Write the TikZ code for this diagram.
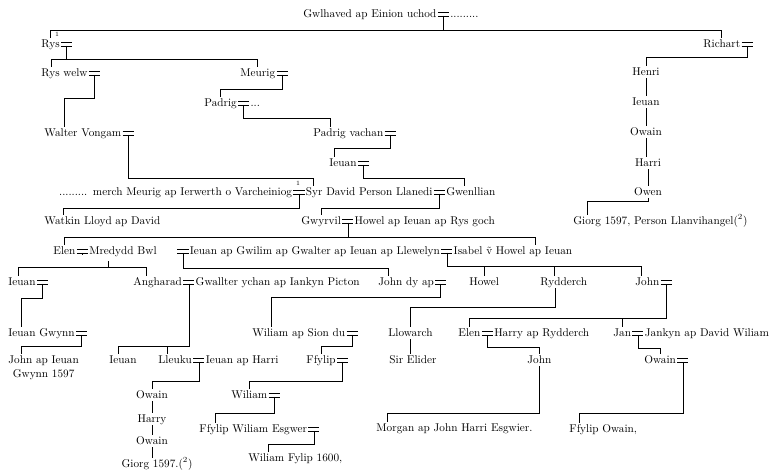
\documentclass[tikz,border=0pt]{standalone}
\usepackage{tikz}
\usetikzlibrary{positioning,calc}

\begin{document}
\begin{tikzpicture}[
    x=0.03cm, y=-0.03cm,
    person/.style={anchor=west, inner sep=1pt, text height=1.6ex, text depth=.4ex, font=\fontsize{9.6}{11}\selectfont},
    wed/.style={inner sep=0pt, minimum width=9pt, minimum height=3pt,
        append after command={(\tikzlastnode.north west) edge[rule] (\tikzlastnode.north east)
                              (\tikzlastnode.south west) edge[rule] (\tikzlastnode.south east)}},
    rule/.style={line width=0.5pt},
    fnote/.style={font=\fontsize{5.5}{6}\selectfont, inner sep=0pt}
]
    \useasboundingbox (0,0) rectangle (771,470);

    % Head of the line
    \node[person] (gwl) at (302,14) {Gwlhaved ap Einion uchod};
    \node[wed, right=0pt of gwl] (gwlm) {};
    \node[person, right=0pt of gwlm] (gwlw) {.........};

    % Sons of Gwlhaved
    \node[person] (rys) at (40,44) {Rys};
    \node[wed, right=0pt of rys] (rysm) {};
    \node[fnote] (fn1) at (57,34) {1};
    \node[person] (richart) at (702,44) {Richart};
    \node[wed, right=0pt of richart] (richartm) {};
    \draw[rule] (gwlm.south) -- ++(0,14) -| (rys.north);
    \draw[rule] (gwlm.south) -- ++(0,14) -| (richart.north);

    % Rys and his line
    \node[person] (rysw) at (40,73) {Rys welw};
    \node[wed, right=0pt of rysw] (ryswm) {};
    \node[person] (meurig) at (239,73) {Meurig};
    \node[wed, right=0pt of meurig] (meurigm) {};
    \draw[rule] (rysm.south) -- ++(0,13) -| ($(rysw.north west)+(11,0)$);
    \draw[rule] (rysm.south) -- ++(0,13) -| (meurig.north);

    \node[person] (padrig) at (203,103) {Padrig};
    \node[wed, right=0pt of padrig] (padrigm) {};
    \node[person, right=0pt of padrigm] (padrigw) {...};
    \draw[rule] (meurigm.south) -- ++(0,14) -| (padrig.north);

    \node[person] (walter) at (43,133) {Walter Vongam};
    \node[wed, right=0pt of walter] (walterm) {};
    \draw[rule] (ryswm.south) -- ++(0,23) -| ($(walter.north west)+(21,0)$);

    \node[person] (pvachan) at (312,133) {Padrig vachan};
    \node[wed, right=0pt of pvachan] (pvachanm) {};
    \draw[rule] (padrigm.south) -- ++(0,13) -| ($(pvachan.north west)+(18,0)$);

    \node[person] (ieuana) at (328,163) {Ieuan};
    \node[wed, right=0pt of ieuana] (ieuanam) {};
    \draw[rule] (pvachanm.south) -- ++(0,13) -| ($(ieuana.north west)+(6,0)$);

    % Syr David and his two wives
    \node[wed] (syrm) at (299,192) {};
    \node[person, left=0pt of syrm] (merch) {.........\enspace merch Meurig ap Ierwerth o Varcheiniog};
    \node[person, right=0pt of syrm] (syr) {Syr David Person Llanedi};
    \node[wed, right=0pt of syr] (syrm2) {};
    \node[person, right=0pt of syrm2] (gwenllian) {Gwenllian};
    \node[fnote] (fn2) at (298,183) {1};
    \draw[rule] (walterm.south) -- ++(0,43) -| ($(syr.north west)+(9,0)$);
    \draw[rule] (ieuanam.south) -- ++(0,13) -| ($(gwenllian.north west)+(19,0)$);

    % Children of Syr David
    \node[person] (watkin) at (43,221) {Watkin Lloyd ap David};
    \node[person] (gwyrvil) at (300,221) {Gwyrvil};
    \node[wed, right=0pt of gwyrvil] (gwyrvilm) {};
    \node[person, right=0pt of gwyrvilm] (howel) {Howel ap Ieuan ap Rys goch};
    \draw[rule] (syrm.south) -- ++(0,14) -| ($(watkin.north west)+(20,0)$);
    \draw[rule] (syrm2.south) -- ++(0,14) -| (gwyrvil.north);

    % Children of Gwyrvil
    \node[person] (elen) at (52,251) {Elen};
    \node[wed, right=0pt of elen] (elenm) {};
    \node[person, right=0pt of elenm] (mredydd) {Mredydd Bwl};
    \node[wed] (ieuangm0) at (183,251) {};
    \node[person, right=0pt of ieuangm0] (ieuang) {Ieuan ap Gwilim ap Gwalter ap Ieuan ap Llewelyn};
    \node[wed, right=0pt of ieuang] (ieuangm) {};
    \node[person, right=0pt of ieuangm] (isabel) {Isabel \~v Howel ap Ieuan};
    \draw[rule] (gwyrvilm.south) -- ++(0,14) -| (elen.north);
    \draw[rule] (gwyrvilm.south) -- ++(0,14) -| ($(isabel.north west)+(83,0)$);

    % Children of Elen
    \node[person] (ieuanb) at (7,282) {Ieuan};
    \node[wed, right=0pt of ieuanb] (ieuanbm) {};
    \node[person] (angharad) at (132,282) {Angharad};
    \node[wed, right=0pt of angharad] (angharadm) {};
    \node[person, right=0pt of angharadm] (gwallter) {Gwallter ychan ap Iankyn Picton};
    \coordinate (elenline) at ($(mredydd.south west)+(20,4)$);
    \draw[rule] (elenm.south) -- ++(0,2);
    \draw[rule] (elenline) -- ++(0,6) -| ($(ieuanb.north west)+(11,0)$);
    \draw[rule] (elenline) -- ++(0,6) -| ($(angharad.north west)+(14,0)$);

    % Children of Ieuan ap Gwilim
    \node[person] (johndy) at (377,282) {John dy ap};
    \node[wed, right=0pt of johndy] (johndym) {};
    \draw[rule] (ieuangm0.south) -- ++(0,15) -| ($(johndy.north west)+(11,0)$);

    % Children of Isabel
    \node[person] (howelb) at (468,282) {Howel};
    \node[person] (rydderch) at (539,282) {Rydderch};
    \node[person] (johnb) at (634,282) {John};
    \node[wed, right=0pt of johnb] (johnbm) {};
    \draw[rule] (ieuangm.south) -- ++(0,13) -| (howelb.north);
    \draw[rule] (ieuangm.south) -- ++(0,13) -| ($(rydderch.north west)+(15,0)$);
    \draw[rule] (ieuangm.south) -- ++(0,13) -| ($(johnb.north west)+(7,0)$);

    % Next generation
    \node[person] (ieuangw) at (7,333) {Ieuan Gwynn};
    \node[wed, right=0pt of ieuangw] (ieuangwm) {};
    \draw[rule] (ieuanbm.south) -- ++(0,14) -| ($(ieuangw.north west)+(14,0)$);

    \node[person] (wiliams) at (251,333) {Wiliam ap Sion du};
    \node[wed, right=0pt of wiliams] (wiliamsm) {};
    \draw[rule] (johndym.south) -- ++(0,13) -| ($(wiliams.north west)+(20,0)$);

    \node[person] (llowarch) at (387,333) {Llowarch};
    \draw[rule] ($(rydderch.south west)+(16,0)$) -- ++(0,19) -| (llowarch.north);

    \node[person] (elenb) at (457,333) {Elen};
    \node[wed, right=0pt of elenb] (elenbm) {};
    \node[person, right=0pt of elenbm] (harry) {Harry ap Rydderch};
    \node[person] (jan) at (612,333) {Jan};
    \node[wed, right=0pt of jan] (janm) {};
    \node[person, right=0pt of janm] (jankyn) {Jankyn ap David Wiliam};
    \draw[rule] (johnbm.south) -- ++(0,34) -| (elenb.north);
    \draw[rule] (johnbm.south) -- ++(0,34) -| (jan.north);

    \node[person] (johnai) at (7,360) {John ap Ieuan};
    \node[person, below=1pt of johnai] (gwynn) {Gwynn 1597};
    \draw[rule] (ieuangwm.south) -- ++(0,11) -| ($(johnai.north west)+(14,0)$);

    \node[person] (ieuanc) at (108,360) {Ieuan};
    \node[person] (lleuku) at (157,360) {Lleuku};
    \node[wed, right=0pt of lleuku] (lleukum) {};
    \node[person, right=0pt of lleukum] (ieuanh) {Ieuan ap Harri};
    \draw[rule] (angharadm.south) -- ++(0,62) -| ($(ieuanc.north west)+(10,0)$);
    \draw[rule] (angharadm.south) -- ++(0,62) -| ($(lleuku.north west)+(10,0)$);

    \node[person] (ffylip) at (305,360) {Ffylip};
    \node[wed, right=0pt of ffylip] (ffylipm) {};
    \draw[rule] (wiliamsm.south) -- ++(0,11) -| (ffylip.north);

    \node[person] (elider) at (388,360) {Sir Elider};
    \draw[rule] (llowarch.south) -- (llowarch.south |- elider.north);

    \node[person] (johnc) at (526,360) {John};
    \draw[rule] (elenbm.south) -- ++(0,12) -| (johnc.north);

    \node[person] (owaina) at (643,360) {Owain};
    \node[wed, right=0pt of owaina] (owainam) {};
    \draw[rule] (janm.south) -- ++(0,13) -| (owaina.north);

    % Line of Lleuku
    \node[person, anchor=center] (owainb) at (152,395) {Owain};
    \node[person, anchor=center] (harryb) at (152,419) {Harry};
    \node[person, anchor=center] (owainc) at (152,441) {Owain};
    \node[person, anchor=center] (giorgb) at (157,464) {Giorg 1597.(\textsuperscript{2})};
    \draw[rule] (lleukum.south) -- ++(0,19) -| (owainb.north);
    \foreach \a/\b in {owainb/harryb, harryb/owainc, owainc/giorgb}
        \draw[rule] (\a.south) -- (\a.south |- \b.north);

    % Line of Ffylip
    \node[person] (wiliamb) at (230,395) {Wiliam};
    \node[wed, right=0pt of wiliamb] (wiliambm) {};
    \draw[rule] (ffylipm.south) -- ++(0,19) -| (wiliamb.north);
    \node[person] (ffylipw) at (198,429) {Ffylip Wiliam Esgwer};
    \node[wed, right=0pt of ffylipw] (ffylipwm) {};
    \draw[rule] (wiliambm.south) -- ++(0,16) -| ($(ffylipw.north west)+(17,0)$);
    \node[person] (wfylip) at (247,458) {Wiliam Fylip 1600,};
    \draw[rule] (ffylipwm.south) -- ++(0,13) -| ($(wfylip.north west)+(21,0)$);

    % Sons of John and Owain
    \node[person] (morgan) at (375,428) {Morgan ap John Harri Esgwier.};
    \draw[rule] (johnc.south) -- ++(0,47) -| ($(morgan.north west)+(12,0)$);
    \node[person] (ffylipo) at (568,429) {Ffylip Owain,};
    \draw[rule] (owainam.south) -- ++(0,51) -| ($(ffylipo.north west)+(11,0)$);

    % Richart and his line
    \node[person, anchor=center] (henri) at (646,72) {Henri};
    \node[person, anchor=center] (ieuanr) at (646,102) {Ieuan};
    \node[person, anchor=center] (owainr) at (646,132) {Owain};
    \node[person, anchor=center] (harrir) at (648,163) {Harri};
    \node[person, anchor=center] (owen) at (648,192) {Owen};
    \draw[rule] (richartm.south) -- ++(0,11) -| (henri.north);
    \foreach \a/\b in {henri/ieuanr, ieuanr/owainr, owainr/harrir, harrir/owen}
        \draw[rule] (\a.south) -- (\a.south |- \b.north);
    \node[person] (giorga) at (572,221) {Giorg 1597, Person Llanvihangel(\textsuperscript{2})};
    \draw[rule] (owen.south) -- ++(0,3) -| ($(giorga.north west)+(15,0)$);
\end{tikzpicture}
\end{document}
